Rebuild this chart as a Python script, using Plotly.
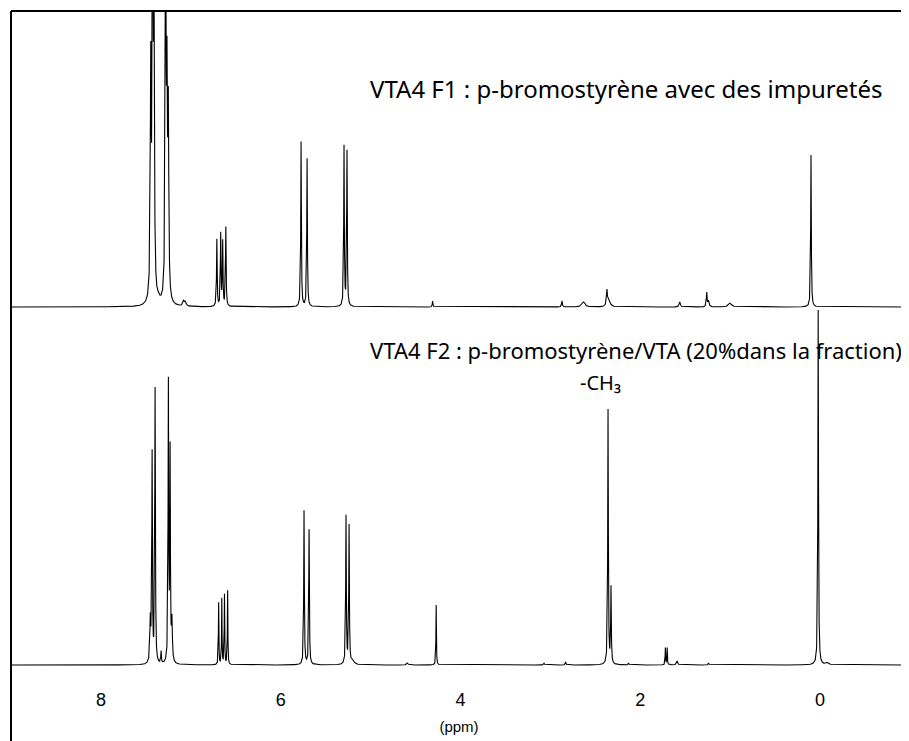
import numpy as np
import plotly.graph_objects as go

# ---- data (ppm, peak height, half-width in ppm) ----
top_ppm = [7.445, 7.425, 7.41, 7.36, 7.28, 7.265, 7.25, 7.08, 7.06,
           6.71, 6.667, 6.645, 6.61, 5.773, 5.706, 5.295, 5.262,
           4.31, 2.87, 2.63, 2.37, 2.35, 1.56, 1.26, 1.24, 1.0, 0.10]
top_int = [230, 450, 300, 4, 450, 200, 180, 5, 4,
           67, 72, 64, 79, 165, 148, 160, 155,
           6, 6, 5, 15, 6, 5, 14, 6, 4, 152]
top_hw = [0.006, 0.005, 0.006, 0.02, 0.005, 0.006, 0.006, 0.01, 0.01,
          0.004, 0.004, 0.004, 0.004, 0.004, 0.004, 0.004, 0.004,
          0.004, 0.005, 0.02, 0.006, 0.02, 0.008, 0.005, 0.008, 0.02, 0.004]

bot_ppm = [7.45, 7.43, 7.397, 7.33, 7.249, 7.23, 7.21,
           6.69, 6.655, 6.625, 6.59, 5.74, 5.684, 5.273, 5.239, 5.2,
           4.59, 4.27, 3.07, 2.83, 2.358, 2.325, 2.13,
           1.72, 1.70, 1.59, 1.24, 0.02, -0.08]
bot_int = [43, 208, 274, 12, 278, 208, 40,
           62, 66, 70, 74, 154, 135, 148, 138, 4,
           2, 60, 2, 3, 255, 76, 2,
           17, 17, 4, 2, 355, 2]
bot_hw = [0.006, 0.004, 0.004, 0.004, 0.004, 0.004, 0.006,
          0.003, 0.003, 0.003, 0.003, 0.004, 0.004, 0.004, 0.004, 0.02,
          0.01, 0.003, 0.005, 0.005, 0.004, 0.004, 0.005,
          0.003, 0.003, 0.008, 0.006, 0.004, 0.02]

tick_vals = [8, 6, 4, 2, 0]
tick_text = ["8", "6", "4", "2", "0"]

title_f1 = "VTA4 F1 : p-bromostyrène avec des impuretés"
title_f2 = "VTA4 F2 : p-bromostyrène/VTA (20%dans la fraction)"
label_ch3 = "-CH₃"

# ---- build spectra ----
ppm = np.arange(-0.97, 9.005, 0.001)


def spectrum(pos, amp, hw):
    y = np.zeros_like(ppm)
    for p, a, w in zip(pos, amp, hw):
        y += a / (1.0 + ((ppm - p) / w) ** 2)
    return y


TOP_OFFSET = 373
BOT_OFFSET = 15

fig = go.Figure()
fig.add_trace(go.Scatter(x=ppm, y=spectrum(top_ppm, top_int, top_hw) + TOP_OFFSET,
                         mode="lines", line=dict(color="black", width=1.1),
                         hoverinfo="skip", showlegend=False))
fig.add_trace(go.Scatter(x=ppm, y=spectrum(bot_ppm, bot_int, bot_hw) + BOT_OFFSET,
                         mode="lines", line=dict(color="black", width=1.1),
                         hoverinfo="skip", showlegend=False))

fig.add_annotation(x=5.03, y=592, xref="x", yref="y", text=title_f1,
                   showarrow=False, xanchor="left", yanchor="middle",
                   font=dict(family="Noto Sans, sans-serif", size=24, color="black"))
fig.add_annotation(x=5.03, y=330, xref="x", yref="y", text=title_f2,
                   showarrow=False, xanchor="left", yanchor="middle",
                   font=dict(family="Noto Sans, sans-serif", size=22, color="black"))
fig.add_annotation(x=2.69, y=298, xref="x", yref="y", text=label_ch3,
                   showarrow=False, xanchor="left", yanchor="middle",
                   font=dict(family="Noto Sans, sans-serif", size=20, color="black"))

# frame (left, top, right) extending to bottom of page
ext = -61 / 669
frame = dict(color="black", width=2)
fig.add_shape(type="line", xref="paper", yref="paper", x0=0, x1=0, y0=ext, y1=1, line=frame)
fig.add_shape(type="line", xref="paper", yref="paper", x0=0, x1=1.002, y0=1, y1=1, line=frame)
fig.add_shape(type="line", xref="paper", yref="paper", x0=1, x1=1, y0=ext, y1=1,
              line=dict(color="black", width=1.5))

# page body has an 8px margin: the figure is sized/offset to compensate
fig.update_layout(
    width=901, height=733,
    margin=dict(l=3, r=2, t=3, b=61),
    paper_bgcolor="white", plot_bgcolor="white",
    xaxis=dict(range=[9.0, -0.968], tickvals=tick_vals, ticktext=tick_text,
               showgrid=False, zeroline=False, showline=False, ticks="",
               ticklabelstandoff=7,
               tickfont=dict(family="Liberation Sans Narrow, Liberation Sans, sans-serif",
                             size=18, color="black"),
               title=dict(text="(ppm)", standoff=12,
                          font=dict(family="Liberation Sans, Arial, sans-serif",
                                    size=15, color="black"))),
    yaxis=dict(range=[0, 669], visible=False, fixedrange=True),
)

fig.write_html("out.html")
